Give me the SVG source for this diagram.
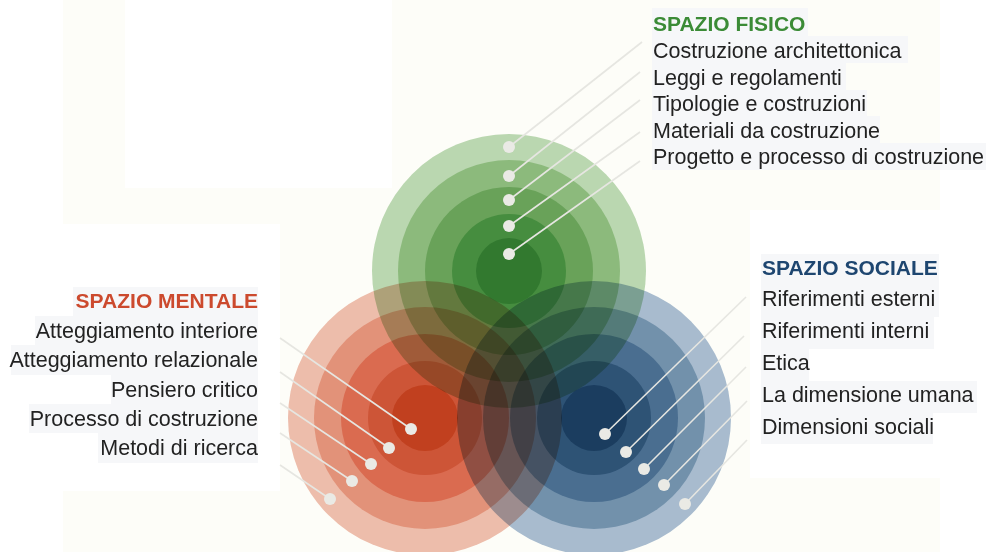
<svg xmlns="http://www.w3.org/2000/svg" width="988" height="552" viewBox="0 0 988 552">
<style>
.cream{fill:#fdfdf8}
.tbg{fill:#f6f7f9}
.t{font-family:"Liberation Sans",Arial,sans-serif;font-size:21.5px;fill:#222222}
.h{font-family:"Liberation Sans",Arial,sans-serif;font-size:21px;font-weight:bold}
.lead{stroke:#e6e6e1;stroke-width:1.6;fill:none}
.dot{fill:#eaeae5}
.blend{mix-blend-mode:multiply}
</style>
<rect width="988" height="552" fill="#ffffff"/>
<g id="background">
<rect class="cream" x="63" y="0" width="62" height="224"/>
<rect class="cream" x="125" y="188" width="267" height="36"/>
<rect class="cream" x="392" y="0" width="548" height="210"/>
<rect class="cream" x="280" y="210" width="470" height="281"/>
<rect class="cream" x="280" y="224" width="112" height="267"/>
<rect class="cream" x="63" y="491" width="877" height="61"/>
<rect class="cream" x="750" y="478" width="190" height="13"/>
</g>
<g id="circles">
<g id="spazio-fisico-circle" class="blend">
<circle cx="509" cy="271" r="137" fill="#bcd9b5"/>
<circle cx="509" cy="271" r="111" fill="#8dbc80"/>
<circle cx="509" cy="271" r="84" fill="#6aa35b"/>
<circle cx="509" cy="271" r="57" fill="#468e41"/>
<circle cx="509" cy="271" r="33" fill="#327a30"/>
</g>
<g id="spazio-mentale-circle" class="blend">
<circle cx="425" cy="418" r="137" fill="#efbfb0"/>
<circle cx="425" cy="418" r="111" fill="#e4937c"/>
<circle cx="425" cy="418" r="84" fill="#dc6c52"/>
<circle cx="425" cy="418" r="57" fill="#cf5538"/>
<circle cx="425" cy="418" r="33" fill="#c3401f"/>
</g>
<g id="spazio-sociale-circle" class="blend">
<circle cx="594" cy="418" r="137" fill="#a9bdd4"/>
<circle cx="594" cy="418" r="111" fill="#7392b0"/>
<circle cx="594" cy="418" r="84" fill="#4a6f94"/>
<circle cx="594" cy="418" r="57" fill="#2e5378"/>
<circle cx="594" cy="418" r="33" fill="#1b3d62"/>
</g>
</g>
<g id="connectors">
<line class="lead" x1="509" y1="147" x2="642" y2="42"/>
<line class="lead" x1="509" y1="176" x2="640" y2="72"/>
<line class="lead" x1="509" y1="200" x2="640" y2="100"/>
<line class="lead" x1="509" y1="226" x2="640" y2="132"/>
<line class="lead" x1="509" y1="254" x2="640" y2="161"/>
<line class="lead" x1="411" y1="429" x2="280" y2="338"/>
<line class="lead" x1="389" y1="448" x2="280" y2="372"/>
<line class="lead" x1="371" y1="464" x2="280" y2="403"/>
<line class="lead" x1="352" y1="481" x2="280" y2="433"/>
<line class="lead" x1="330" y1="499" x2="280" y2="465"/>
<line class="lead" x1="605" y1="434" x2="746" y2="297"/>
<line class="lead" x1="626" y1="452" x2="744" y2="336"/>
<line class="lead" x1="644" y1="469" x2="746" y2="367"/>
<line class="lead" x1="664" y1="485" x2="747" y2="401"/>
<line class="lead" x1="685" y1="504" x2="747" y2="440"/>
<circle class="dot" cx="509" cy="147" r="6"/>
<circle class="dot" cx="509" cy="176" r="6"/>
<circle class="dot" cx="509" cy="200" r="6"/>
<circle class="dot" cx="509" cy="226" r="6"/>
<circle class="dot" cx="509" cy="254" r="6"/>
<circle class="dot" cx="411" cy="429" r="6"/>
<circle class="dot" cx="389" cy="448" r="6"/>
<circle class="dot" cx="371" cy="464" r="6"/>
<circle class="dot" cx="352" cy="481" r="6"/>
<circle class="dot" cx="330" cy="499" r="6"/>
<circle class="dot" cx="605" cy="434" r="6"/>
<circle class="dot" cx="626" cy="452" r="6"/>
<circle class="dot" cx="644" cy="469" r="6"/>
<circle class="dot" cx="664" cy="485" r="6"/>
<circle class="dot" cx="685" cy="504" r="6"/>
</g>
<g id="spazio-fisico">
<rect class="tbg" x="652" y="8" width="156" height="28"/>
<rect class="tbg" x="652" y="36" width="256" height="27"/>
<rect class="tbg" x="652" y="63" width="194" height="27"/>
<rect class="tbg" x="652" y="90" width="215" height="26"/>
<rect class="tbg" x="652" y="116" width="228" height="27"/>
<rect class="tbg" x="652" y="143" width="334" height="27"/>
<text class="h" x="653" y="31" fill="#3b8b36">SPAZIO FISICO</text>
<text class="t" x="653" y="58">Costruzione architettonica</text>
<text class="t" x="653" y="84.6">Leggi e regolamenti</text>
<text class="t" x="653" y="111.2">Tipologie e costruzioni</text>
<text class="t" x="653" y="137.8">Materiali da costruzione</text>
<text class="t" x="653" y="164.4">Progetto e processo di costruzione</text>
</g>
<g id="spazio-mentale">
<rect class="tbg" x="73" y="287" width="185" height="29"/>
<rect class="tbg" x="35" y="316" width="223" height="29"/>
<rect class="tbg" x="11" y="345" width="247" height="30"/>
<rect class="tbg" x="111" y="375" width="147" height="29"/>
<rect class="tbg" x="29" y="404" width="229" height="29"/>
<rect class="tbg" x="98" y="433" width="160" height="30"/>
<text class="h" x="258" y="308" text-anchor="end" fill="#cc4a2e">SPAZIO MENTALE</text>
<text class="t" x="258" y="338" text-anchor="end">Atteggiamento interiore</text>
<text class="t" x="258" y="367" text-anchor="end">Atteggiamento relazionale</text>
<text class="t" x="258" y="397" text-anchor="end">Pensiero critico</text>
<text class="t" x="258" y="426" text-anchor="end">Processo di costruzione</text>
<text class="t" x="258" y="455" text-anchor="end">Metodi di ricerca</text>
</g>
<g id="spazio-sociale">
<rect class="tbg" x="761" y="254" width="178" height="63"/>
<rect class="tbg" x="761" y="317" width="173" height="32"/>
<rect class="tbg" x="761" y="349" width="48" height="32"/>
<rect class="tbg" x="761" y="381" width="216" height="32"/>
<rect class="tbg" x="761" y="413" width="172" height="31"/>
<text class="h" x="762" y="275" fill="#1e4670">SPAZIO SOCIALE</text>
<text class="t" x="762" y="306">Riferimenti esterni</text>
<text class="t" x="762" y="338">Riferimenti interni</text>
<text class="t" x="762" y="370">Etica</text>
<text class="t" x="762" y="402">La dimensione umana</text>
<text class="t" x="762" y="434">Dimensioni sociali</text>
</g>
</svg>
